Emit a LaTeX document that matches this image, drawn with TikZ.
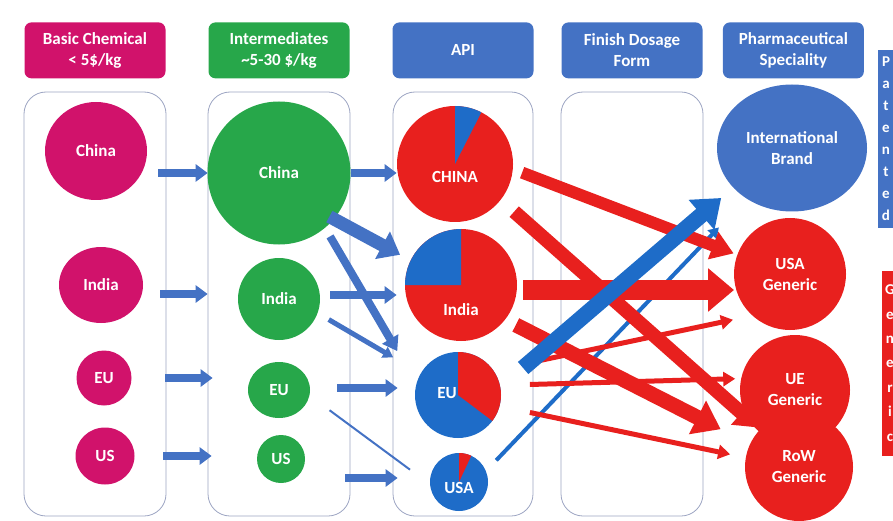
\documentclass[tikz,border=0pt]{standalone}
\usepackage{fontspec}
\setmainfont{Carlito}
\usetikzlibrary{positioning, arrows.meta, shapes.geometric, calc}
\definecolor{cMagenta}{HTML}{D1126B}
\definecolor{cGreen}{HTML}{27A74A}
\definecolor{cOffice}{HTML}{4472C4}
\definecolor{cPieBlue}{HTML}{1E6CC8}
\definecolor{cRed}{HTML}{E8201E}
\definecolor{cFrame}{HTML}{9CA4C2}
\newcommand{\stagefont}{\fontsize{17}{21}\selectfont\bfseries}
\tikzset{
  headbox/.style={
    fill=#1, rounded corners=7pt,
    minimum width=141pt, minimum height=56pt, inner sep=2pt,
    align=center, text=white, font=\stagefont
  },
  stage/.style={
    draw=cFrame, line width=0.8pt, rounded corners=22pt,
    minimum width=#1, minimum height=424pt
  },
  region/.style={
    circle, fill=#1, inner sep=0pt, outer sep=0pt,
    align=center, text=white, font=\stagefont
  },
  oval/.style={
    ellipse, fill=#1, inner sep=0pt, outer sep=0pt,
    align=center, text=white, font=\stagefont
  },
  pielabel/.style={text=white, font=\stagefont},
  sidetag/.style={
    fill=#1, inner sep=0pt, minimum width=16pt,
    align=center, text=white
  },
  flow/.style={color=#1},
  flowtip/.style 2 args={-{Triangle[length=#1, width=#2]}},
  feed/.style={flow=cOffice, line width=8pt, flowtip={12pt}{17pt}},
  thinred/.style={flow=cRed, line width=5pt, flowtip={12pt}{14pt}},
}

\begin{document}
\begin{tikzpicture}[x=1pt, y=1pt]
\useasboundingbox (0,0) rectangle (893,520);

% ---- stage columns ----
\node[stage=142pt] (col1) at (95,216) {};
\node[stage=142pt] (col2) at (279,216) {};
\node[stage=140pt] (col3) at (463,216) {};
\node[stage=142pt] (col4) at (632,216) {};

% ---- headers ----
\node[headbox=cMagenta, above=13pt of col1] (hbasic) {Basic Chemical\\< 5\$/kg};
\node[headbox=cGreen, above=13pt of col2] (hinter) {Intermediates\\\textasciitilde5-30 \$/kg};
\node[headbox=cOffice, above=13pt of col3] (hapi) {API};
\node[headbox=cOffice, above=13pt of col4] (hfinish) {Finish Dosage\\Form};
\node[headbox=cOffice, right=20pt of hfinish] (hpharma) {Pharmaceutical\\Speciality};

% ---- basic chemicals ----
\node[oval=cMagenta, minimum width=102pt, minimum height=98pt] (c1china) at (96,369) {China};
\node[oval=cMagenta, minimum width=84pt, minimum height=76pt] (c1india) at (101,235) {India};
\node[region=cMagenta, minimum size=55pt] (c1eu) at (104,142) {EU};
\node[oval=cMagenta, minimum width=59pt, minimum height=57pt] (c1us) at (105,64) {US};

% ---- intermediates ----
\node[region=cGreen, minimum size=143pt] (c2china) at (279,347) {China};
\node[region=cGreen, minimum size=82pt] (c2india) at (279,221) {India};
\node[oval=cGreen, minimum width=62pt, minimum height=56pt] (c2eu) at (279,130) {EU};
\node[region=cGreen, minimum size=48pt] (c2us) at (281,61) {US};

% ---- API shares ----
\node[region=cRed, minimum size=116pt] (c3china) at (455,356) {};
\node[region=cRed, minimum size=112pt] (c3india) at (461,235) {};
\node[region=cPieBlue, minimum size=86pt] (c3eu) at (458,125) {};
\node[region=cPieBlue, minimum size=58pt] (c3usa) at (459,38) {};
\fill[cPieBlue] (c3china.center) -- (c3china.90) arc[start angle=90, end angle=63, radius=58pt] -- cycle;
\fill[cPieBlue] (c3india.center) -- (c3india.90) arc[start angle=90, end angle=180, radius=56pt] -- cycle;
\fill[cRed] (c3eu.center) -- (c3eu.90) arc[start angle=90, end angle=-37, radius=43pt] -- cycle;
\fill[cRed] (c3usa.center) -- (c3usa.90) arc[start angle=90, end angle=65, radius=29pt] -- cycle;
\node[pielabel] (l3china) at ($(c3china)+(0,-13)$) {CHINA};
\node[pielabel] (l3india) at ($(c3india)+(0,-25)$) {India};
\node[pielabel] (l3eu) at ($(c3eu)+(-11,2)$) {EU};
\node[pielabel] (l3usa) at ($(c3usa)+(0,-6)$) {USA};

% ---- pharmaceutical speciality ----
\node[oval=cOffice, minimum width=150pt, minimum height=127pt] (c5brand) at (792,372) {International\\Brand};
\node[region=cRed, minimum size=112pt] (c5usa) at (790,246) {USA\\Generic};
\node[region=cRed, minimum size=110pt] (c5ue) at (795,130) {UE\\Generic};
\node[region=cRed, minimum size=108pt] (c5row) at (799,53) {RoW\\Generic};

% ---- side tags ----
\node[sidetag=cOffice, minimum height=178pt, font=\fontsize{15}{22}\selectfont\bfseries] (tpat) at (886,381)
  {P\\a\\t\\e\\n\\t\\e\\d};
\node[sidetag=cRed, minimum height=185pt, font=\fontsize{15}{24.4}\selectfont\bfseries] (tgen) at (890,157)
  {G\\e\\n\\e\\r\\i\\c};

% ---- basic -> intermediates ----
\draw[feed, shorten <=-8pt] (col1.east |- c2china) -- (col2.west |- c2china);
\draw[feed, shorten <=-6pt] ($(col1.east |- c2india)+(0,5)$) -- ($(col2.west |- c2india)+(0,5)$);
\draw[feed, shorten <=-1pt, shorten >=-5pt] (col1.east |- c1eu) -- (col2.west |- c1eu);
\draw[feed, shorten <=-3pt, shorten >=-4pt] (col1.east |- c1us) -- (col2.west |- c1us);

% ---- intermediates -> API ----
\draw[feed, shorten >=-4pt] (c2china.east) -- (col3.west |- c2china.east);
\draw[feed, shorten <=10pt, shorten >=-4pt] ($(c2india.east)+(0,4)$) -- ($(col3.west |- c2india.east)+(0,4)$);
\draw[feed, shorten <=27pt, shorten >=-5pt] ($(c2eu.east)+(0,2)$) -- ($(col3.west |- c2eu.east)+(0,2)$);
\draw[feed, shorten <=-5pt, shorten >=-5pt] ($(col2.east |- c3usa)+(0,4)$) -- ($(col3.west |- c3usa)+(0,4)$);
\draw[flow=cOffice, line width=13pt, flowtip={20pt}{30pt}, shorten <=-5pt, shorten >=12pt]
  (c2china.-40) -- (c3india.154);
\draw[flow=cOffice, line width=8pt, flowtip={14pt}{18pt}, shorten <=10pt, shorten >=38pt]
  (c2china.-50) -- (c3eu.165);
\draw[flow=cOffice, line width=5pt, flowtip={10pt}{12pt}, shorten <=13pt, shorten >=32pt]
  (c2india.-20) -- (c3eu.150);
\draw[flow=cOffice, line width=2pt, shorten <=25pt, shorten >=25pt] (c2eu.-10) -- (c3usa.185);

% ---- API -> speciality ----
\draw[flow=cPieBlue, line width=4pt, flowtip={10pt}{12pt}, shorten <=15pt, shorten >=40pt]
  (c3usa.22) -- (c5brand.228);
\draw[flow=cRed, line width=12pt, flowtip={22pt}{28pt}, shorten <=10pt, shorten >=4pt]
  (c3china.-5) -- (c5usa.160);
\draw[flow=cRed, line width=14pt, flowtip={22pt}{30pt}, shorten <=18pt, shorten >=3pt]
  (c3china.-38) -- (c5row.136);
\draw[flow=cRed, line width=20pt, flowtip={26pt}{42pt}, shorten <=6pt]
  ($(c3india.east)+(0,-5)$) -- ($(c3india.east -| c5usa.west)+(0,-5)$);
\draw[flow=cRed, line width=15pt, flowtip={26pt}{36pt}, shorten <=12pt, shorten >=33pt]
  (c3india.-38) -- (c5row.155);
\draw[thinred, shorten <=39pt, shorten >=20pt] (c3eu.35) -- (c5usa.228);
\draw[thinred, shorten <=30pt, shorten >=6pt] (c3eu.13) -- (c5ue.168);
\draw[thinred, shorten <=31pt, shorten >=16pt] (c3eu.-15) -- (c5row.170);
\draw[flow=cPieBlue, line width=16pt, flowtip={26pt}{38pt}, shorten <=30pt, shorten >=16pt]
  (c3eu.10) -- (c5brand.214);

\end{tikzpicture}
\end{document}
